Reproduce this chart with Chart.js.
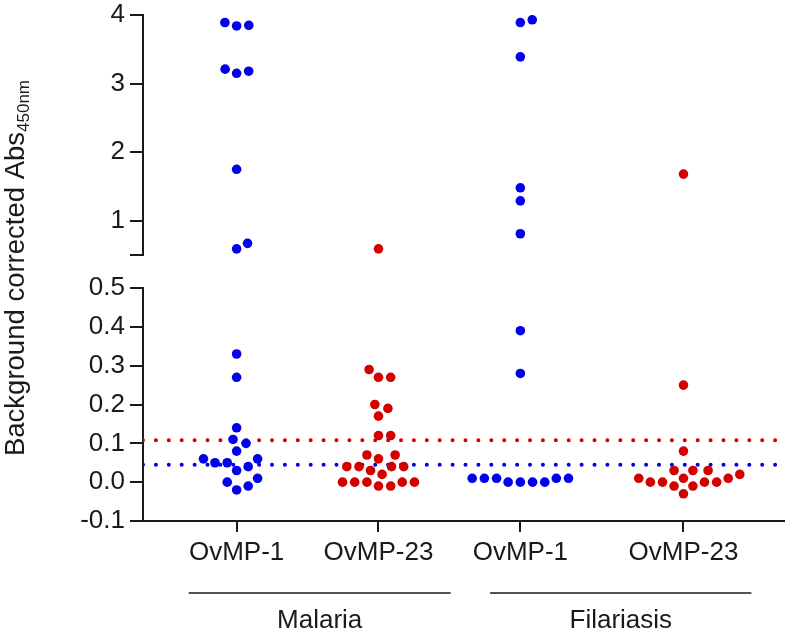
<!DOCTYPE html>
<html>
<head>
<meta charset="utf-8">
<script src="https://cdn.jsdelivr.net/npm/chart.js@4/dist/chart.umd.min.js"></script>
<style>
  html, body { margin: 0; padding: 0; background: #fff; }
</style>
</head>
<body>
<canvas id="mychart" width="789" height="633"></canvas>
<script>
// values (background corrected Abs450nm)
const antigens = ['OvMP-1', 'OvMP-23', 'OvMP-1', 'OvMP-23'];
const cohorts = ['Malaria', 'Filariasis'];

const malariaOvMP1 = [3.85, 3.84, 3.89, 3.21, 3.15, 3.18, 1.75, 0.59, 0.67,
  0.33, 0.27, 0.14, 0.11, 0.10, 0.08, 0.06, 0.05, 0.04, 0.03, 0.05, 0.06,
  0.00, 0.01, -0.01, -0.02];
const malariaOvMP23 = [0.59, 0.27, 0.27, 0.29, 0.20, 0.19, 0.17, 0.12, 0.12,
  0.07, 0.07, 0.06, 0.04, 0.04, 0.03, 0.04, 0.04, 0.02,
  0.00, 0.00, 0.00, 0.00, 0.00, -0.01, -0.01];
const filariasisOvMP1 = [3.93, 3.89, 3.39, 1.48, 1.29, 0.81, 0.39, 0.28,
  0.01, 0.01, 0.01, 0.00, 0.00, 0.00, 0.00, 0.01, 0.01];
const filariasisOvMP23 = [1.68, 0.25, 0.08, 0.03, 0.03, 0.03, 0.02,
  0.01, 0.01, 0.01, 0.00, 0.00, 0.00, 0.00, -0.01, -0.01, -0.03];

const cutoffOvMP1 = 0.045;
const cutoffOvMP23 = 0.108;

const topTicks = [1, 2, 3, 4];
const bottomTicks = [-0.1, 0.0, 0.1, 0.2, 0.3, 0.4, 0.5];
const breakAt = 0.5;

// layout stuff
const BLUE = 'rgb(0,0,235)';
const RED = 'rgb(212,0,0)';
const INK = '#1a1a1a';
const FONT = '"Liberation Sans", Arial, sans-serif';
const xMin = 0.34, xMax = 4.86;
const centers = [1, 2, 3, 4.15];
const groupSpans = [[0.662, 2.509], [2.787, 4.629]];

const groups = [
  { values: malariaOvMP1, color: BLUE },
  { values: malariaOvMP23, color: RED },
  { values: filariasisOvMP1, color: BLUE },
  { values: filariasisOvMP23, color: RED }
];

const datasets = [];
groups.forEach((g, i) => {
  const top = g.values.filter(v => v > breakAt);
  const bot = g.values.filter(v => v <= breakAt);
  [[top, 'yTop'], [bot, 'yBot']].forEach(([vals, axis]) => {
    datasets.push({
      type: 'scatter',
      yAxisID: axis,
      values: vals,
      center: centers[i],
      data: vals.map(v => ({ x: centers[i], y: v })),
      backgroundColor: g.color,
      borderWidth: 0,
      pointRadius: 4.8,
      pointHoverRadius: 4.8,
      order: 1
    });
  });
});
[[cutoffOvMP23, RED], [cutoffOvMP1, BLUE]].forEach(([c, col]) => {
  datasets.push({
    type: 'line',
    yAxisID: 'yBot',
    data: [{ x: xMin, y: c }, { x: xMax, y: c }],
    borderColor: col,
    borderWidth: 4,
    borderDash: [0, 12.9],
    borderCapStyle: 'round',
    pointRadius: 0,
    order: 2
  });
});

const axisFont = { family: FONT, size: 26 };

function fixedTicks(list) {
  return s => { s.ticks = list.map(v => ({ value: v })); };
}

const decorations = {
  id: 'decorations',
  afterDraw(chart) {
    const ctx = chart.ctx;
    const xs = chart.scales.x;
    const area = chart.chartArea;
    ctx.save();
    ctx.fillStyle = INK;
    ctx.strokeStyle = INK;
    ctx.lineWidth = 1.6;
    ctx.font = '26px ' + FONT;
    ctx.textAlign = 'center';
    ctx.textBaseline = 'middle';
    groupSpans.forEach((sp, i) => {
      const a = xs.getPixelForValue(sp[0]);
      const b = xs.getPixelForValue(sp[1]);
      const ly = xs.top + 72;
      ctx.beginPath();
      ctx.moveTo(a, ly);
      ctx.lineTo(b, ly);
      ctx.stroke();
      ctx.fillText(cohorts[i], (a + b) / 2, xs.top + 100);
    });

    // y title with subscript
    const main = 'Background corrected Abs';
    const sub = '450nm';
    ctx.font = '27.5px ' + FONT;
    const w1 = ctx.measureText(main).width;
    ctx.font = '17px ' + FONT;
    const w2 = ctx.measureText(sub).width;
    const cy = (area.top + area.bottom) / 2;
    ctx.translate(24, cy);
    ctx.rotate(-Math.PI / 2);
    ctx.textAlign = 'left';
    ctx.textBaseline = 'alphabetic';
    const start = -(w1 + w2) / 2;
    ctx.font = '27.5px ' + FONT;
    ctx.fillText(main, start, 0);
    ctx.font = '17px ' + FONT;
    ctx.fillText(sub, start + w1, 5);
    ctx.restore();
  }
};

const ctx = document.getElementById('mychart').getContext('2d');
const chart = new Chart(ctx, {
  type: 'scatter',
  data: { datasets: datasets },
  options: {
    responsive: false,
    animation: false,
    events: [],
    layout: { padding: { top: 15, left: 0, right: 0, bottom: 0 } },
    plugins: { legend: { display: false }, tooltip: { enabled: false } },
    scales: {
      x: {
        type: 'linear',
        position: 'bottom',
        min: xMin,
        max: xMax,
        afterBuildTicks: fixedTicks(centers),
        afterFit: s => { s.height = 112; },
        ticks: {
          callback: (v, i) => antigens[i],
          font: axisFont, color: INK, padding: 5,
          maxRotation: 0, autoSkip: false
        },
        grid: { drawOnChartArea: false, tickLength: 11, color: INK, lineWidth: 2 },
        border: { color: INK, width: 2 }
      },
      yTop: {
        type: 'linear',
        position: 'left',
        stack: 'y',
        stackWeight: 240,
        weight: 3,
        min: breakAt,
        max: 4,
        afterBuildTicks: fixedTicks([breakAt].concat(topTicks)),
        afterFit: s => { s.width = 143; s.paddingTop = 0; },
        ticks: {
          callback: v => (v === breakAt ? '' : String(v)),
          font: axisFont, color: INK, padding: 5, autoSkip: false
        },
        grid: { drawOnChartArea: false, tickLength: 13, color: INK, lineWidth: 2 },
        border: { color: INK, width: 2 }
      },
      yGap: {
        type: 'linear',
        position: 'left',
        stack: 'y',
        stackWeight: 33,
        weight: 2,
        afterFit: s => { s.width = 143; s.paddingTop = 0; s.paddingBottom = 0; },
        ticks: { display: false },
        grid: { display: false },
        border: { display: false }
      },
      yBot: {
        type: 'linear',
        position: 'left',
        stack: 'y',
        stackWeight: 233,
        weight: 1,
        min: -0.1,
        max: breakAt,
        afterBuildTicks: fixedTicks(bottomTicks),
        afterFit: s => { s.width = 143; s.paddingTop = 0; },
        ticks: {
          callback: v => v.toFixed(1),
          font: axisFont, color: INK, padding: 5, autoSkip: false
        },
        grid: { drawOnChartArea: false, tickLength: 13, color: INK, lineWidth: 2 },
        border: { color: INK, width: 2 }
      }
    }
  },
  plugins: [decorations]
});

// spread the dots sideways so they do not overlap (beeswarm), using the scales' pixels
function swarm(chart) {
  const xs = chart.scales.x;
  const D = 12.2;
  chart.data.datasets.forEach(ds => {
    if (!ds.values) return;
    const ys = chart.scales[ds.yAxisID];
    const cx = xs.getPixelForValue(ds.center);
    const order = ds.values.map((v, i) => i).sort((a, b) => ds.values[a] - ds.values[b]);
    const placed = [];
    order.forEach(i => {
      const py = ys.getPixelForValue(ds.values[i]);
      const blocked = [];
      placed.forEach(p => {
        const dy = Math.abs(p.y - py);
        if (dy < D) {
          const w = Math.sqrt(D * D - dy * dy);
          blocked.push([p.x - w, p.x + w]);
        }
      });
      const cands = [0];
      blocked.forEach(b => cands.push(b[1], b[0]));
      let best = null;
      cands.forEach(c => {
        if (blocked.some(b => c > b[0] + 1e-6 && c < b[1] - 1e-6)) return;
        if (best === null || Math.abs(c) < Math.abs(best) - 1e-6) best = c;
      });
      placed.push({ x: best, y: py });
      ds.data[i] = { x: xs.getValueForPixel(cx + best), y: ds.values[i] };
    });
  });
  chart.update('none');
}
swarm(chart);
</script>
</body>
</html>
